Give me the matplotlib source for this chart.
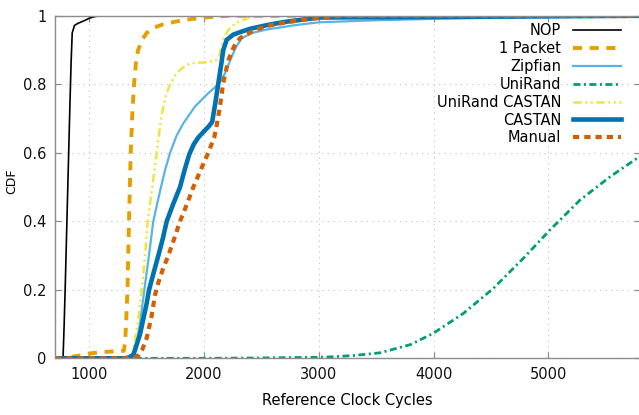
import matplotlib
matplotlib.use("Agg")
import matplotlib.pyplot as plt
from matplotlib.ticker import FixedLocator, FuncFormatter

plt.rcParams['font.family'] = ['DejaVu Sans']
plt.rcParams['lines.scale_dashes'] = False

# ---------------- data ----------------
nop_x = [700, 770, 780, 790, 800, 810, 820, 830, 840, 850, 870, 900, 950, 1000, 1050, 1100, 5800]
nop_y = [0, 0, 0.1, 0.22, 0.35, 0.48, 0.61, 0.74, 0.86, 0.95, 0.972, 0.978, 0.985, 0.993, 0.998, 1.0, 1.0]

pkt_x = [700, 800, 900, 1000, 1100, 1300, 1312, 1322, 1332, 1345, 1360, 1375, 1389, 1405, 1424, 1460, 1499,
         1560, 1642, 1750, 1877, 2000, 2200, 5800]
pkt_y = [0, 0.002, 0.007, 0.014, 0.018, 0.022, 0.05, 0.12, 0.2, 0.4, 0.6, 0.72, 0.8, 0.86, 0.9, 0.93, 0.95,
         0.965, 0.975, 0.983, 0.99, 0.995, 1.0, 1.0]

zipf_x = [700, 1340, 1370, 1400, 1440, 1479, 1519, 1557, 1590, 1624, 1660, 1703, 1760, 1819, 1920, 2036,
          2124, 2182, 2240, 2280, 2330, 2420, 2546, 2800, 3000, 3500, 4000, 4500, 5000, 5800]
zipf_y = [0, 0, 0.01, 0.03, 0.1, 0.2, 0.3, 0.4, 0.45, 0.5, 0.55, 0.6, 0.65, 0.686, 0.735, 0.774,
          0.8, 0.832, 0.88, 0.91, 0.935, 0.95, 0.96, 0.973, 0.981, 0.987, 0.991, 0.994, 0.996, 0.999]

uni_x = [700, 2000, 2500, 3000, 3098, 3300, 3533, 3800, 3998, 4260, 4521, 4783, 5016, 5277, 5539, 5800]
uni_y = [0, 0, 0.001, 0.003, 0.004, 0.008, 0.016, 0.04, 0.073, 0.131, 0.204, 0.292, 0.375, 0.462, 0.530, 0.590]

unic_x = [700, 1340, 1380, 1420, 1456, 1485, 1508, 1548, 1587, 1601, 1620, 1644, 1670, 1703, 1745, 1790,
          1840, 1892, 2000, 2095, 2130, 2153, 2175, 2220, 2280, 2356, 2426, 5800]
unic_y = [0, 0, 0.02, 0.1, 0.2, 0.3, 0.4, 0.5, 0.6, 0.637, 0.69, 0.735, 0.77, 0.8, 0.825, 0.842,
          0.855, 0.862, 0.864, 0.868, 0.88, 0.91, 0.94, 0.962, 0.98, 0.99, 1.0, 1.0]

castan_x = [700, 1300, 1340, 1383, 1441, 1499, 1520, 1560, 1601, 1640, 1674, 1730, 1790, 1830, 1870, 1910,
            1950, 2000, 2040, 2070, 2095, 2124, 2150, 2167, 2197, 2254, 2320, 2400, 2550, 2700, 3000, 5800]
castan_y = [0, 0, 0.002, 0.01, 0.07, 0.16, 0.2, 0.25, 0.3, 0.35, 0.4, 0.45, 0.5, 0.55, 0.595, 0.625,
            0.645, 0.663, 0.677, 0.69, 0.74, 0.803, 0.86, 0.9, 0.93, 0.945, 0.953, 0.962, 0.973, 0.982, 0.995, 1.0]

manual_x = [700, 1300, 1400, 1430, 1460, 1500, 1540, 1572, 1600, 1640, 1688, 1740, 1790, 1850, 1906, 1970,
            2036, 2089, 2115, 2138, 2167, 2211, 2260, 2313, 2420, 2546, 2700, 2900, 3200, 5800]
manual_y = [0, 0, 0.003, 0.01, 0.025, 0.06, 0.12, 0.185, 0.22, 0.26, 0.3, 0.35, 0.4, 0.45, 0.5, 0.55,
            0.6, 0.646, 0.69, 0.735, 0.805, 0.87, 0.91, 0.935, 0.955, 0.97, 0.98, 0.99, 1.0, 1.0]

x_ticks = [1000, 2000, 3000, 4000, 5000]
y_ticks = [0, 0.2, 0.4, 0.6, 0.8, 1.0]

# ---------------- figure ----------------
W, H = 639, 415
fig = plt.figure(figsize=(W / 100, H / 100), dpi=100)
left, right, top, bottom = 55, 640, 15.8, 358.3
ax = fig.add_axes([left / W, 1 - bottom / H, (right - left) / W, (bottom - top) / H])

ax.plot(nop_x, nop_y, color='black', lw=1.2, label='NOP')
ax.plot(pkt_x, pkt_y, color='#E69F00', lw=2.8, dashes=(6.5, 5.5), label='1 Packet')
ax.plot(zipf_x, zipf_y, color='#56B4E9', lw=1.6, label='Zipfian')
ax.plot(uni_x, uni_y, color='#009E73', lw=2.0, dashes=(5, 2.5, 1.5, 2.5), label='UniRand')
ax.plot(unic_x, unic_y, color='#F0E442', lw=1.8, dashes=(6, 2.5, 1.5, 2.5, 1.5, 2.5), label='UniRand CASTAN')
ax.plot(castan_x, castan_y, color='#0072B2', lw=3.3, label='CASTAN')
ax.plot(manual_x, manual_y, color='#D55E00', lw=3.0, dashes=(4.5, 3.6), label='Manual')

ax.set_xlim(700, 5800)
ax.set_ylim(0, 1)
ax.xaxis.set_major_locator(FixedLocator(x_ticks))
ax.yaxis.set_major_locator(FixedLocator(y_ticks))
ax.yaxis.set_major_formatter(FuncFormatter(lambda v, p: ('%g' % v)))

ax.grid(True, color='#cccccc', lw=0.8, linestyle=(0, (1, 3)))
for s in ax.spines.values():
    s.set_color('#8c8c8c')
    s.set_linewidth(1.0)
ax.tick_params(direction='in', length=4, width=0.9, color='#8c8c8c', labelsize=10.5,
               top=True, right=True, labelcolor='#111111', pad=6)

ax.set_xlabel('Reference Clock Cycles', fontsize=10.5, labelpad=8)
fig.text(12 / W, 1 - 181 / H, 'CDF', rotation=90, fontsize=9, ha='center', va='center')

leg = ax.legend(loc='upper right', bbox_to_anchor=(621 / W, 1 - 23 / H),
                bbox_transform=fig.transFigure, frameon=False, markerfirst=False,
                fontsize=10.5, handlelength=3.3, handletextpad=0.8, labelspacing=0.2,
                borderpad=0, borderaxespad=0)

fig.savefig('out.png', dpi=100)
